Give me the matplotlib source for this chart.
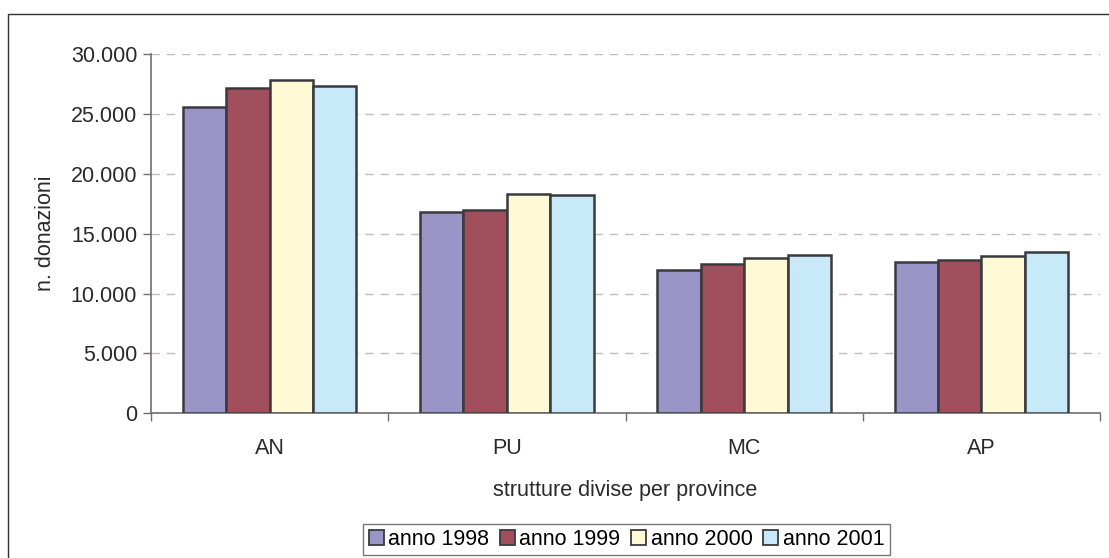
import matplotlib
matplotlib.use("Agg")
import matplotlib.pyplot as plt
import numpy as np
from matplotlib.patches import Rectangle
from matplotlib.ticker import FuncFormatter, FixedLocator

# Donations per province, by year
province = ["AN", "PU", "MC", "AP"]
anni = ["anno 1998", "anno 1999", "anno 2000", "anno 2001"]
val_1998 = [25580, 16830, 11940, 12630]
val_1999 = [27160, 16950, 12470, 12830]
val_2000 = [27810, 18290, 12990, 13110]
val_2001 = [27300, 18200, 13220, 13470]
colori = ["#9b95c7", "#a24f5d", "#fff9d6", "#c7e9f8"]

plt.rcParams["font.family"] = ["Liberation Sans", "DejaVu Sans"]
FS = 15.5

W, H = 1109, 558
fig = plt.figure(figsize=(W / 100, H / 100), dpi=100)
fig.patch.set_facecolor("white")

# outer frame of the chart area
fig.patches.append(Rectangle((8 / W, -0.1), 1.2, (H - 14) / H + 0.1,
                             transform=fig.transFigure, fill=False,
                             edgecolor="#303030", lw=1.0, zorder=0))

left, right = 151 / W, 1100 / W
bottom, top = (H - 413.3) / H, (H - 54) / H
ax = fig.add_axes([left, bottom, right - left, top - bottom])

serie = [val_1998, val_1999, val_2000, val_2001]
x = np.arange(len(province))
bw = 0.183
for i, (vals, c, lab) in enumerate(zip(serie, colori, anni)):
    ax.bar(x + (i - 1.5) * bw, vals, width=bw, color=c, edgecolor="#3a3a3e",
           linewidth=1.8, label=lab, zorder=3)

ax.set_xlim(-0.5, len(province) - 0.5)
ax.set_ylim(0, 30000)
ax.set_yticks(np.arange(0, 30001, 5000))
ax.yaxis.set_major_formatter(FuncFormatter(lambda v, p: f"{int(v):,}".replace(",", ".")))
ax.yaxis.grid(True, linestyle=(0, (6, 5)), color="#c4bcbc", linewidth=1.0, zorder=0)
ax.set_axisbelow(True)

ax.xaxis.set_major_locator(FixedLocator(np.arange(-0.5, len(province), 1.0)))
ax.xaxis.set_major_formatter(FuncFormatter(lambda v, p: ""))
ax.xaxis.set_minor_locator(FixedLocator(x))
ax.set_xticklabels(province, minor=True)
ax.tick_params(axis="x", which="minor", length=0, pad=18, labelsize=FS, colors="#2a2a2a")
ax.tick_params(axis="x", which="major", length=6, width=1, color="#707070")
ax.tick_params(axis="y", length=6, width=1, color="#707070", labelsize=FS,
               labelcolor="#2a2a2a", pad=4)

for s in ["top", "right"]:
    ax.spines[s].set_visible(False)
for s in ["left", "bottom"]:
    ax.spines[s].set_color("#707070")
    ax.spines[s].set_linewidth(1.2)

ax.set_ylabel("n. donazioni", fontsize=FS, color="#2a2a2a")
ax.yaxis.set_label_coords(-(151 - 56) / (1100 - 151), 0.5)
ax.set_xlabel("strutture divise per province", fontsize=FS, color="#2a2a2a")
ax.xaxis.set_label_coords(0.5, -(480 - 413.3) / (413.3 - 54))
ax.xaxis.label.set_verticalalignment("top")

leg = fig.legend(loc="center", bbox_to_anchor=((362 + 891) / 2 / W, 1 - (523 + 556) / 2 / H),
                 ncol=4, frameon=True, fancybox=False, fontsize=FS,
                 handlelength=0.7, handleheight=0.7, handletextpad=0.2,
                 columnspacing=0.5, borderpad=0.25)
leg.get_frame().set_edgecolor("#555555")
leg.get_frame().set_linewidth(1.0)
for h in leg.legend_handles:
    h.set_linewidth(1.3)

fig.savefig("out.png", dpi=100)
